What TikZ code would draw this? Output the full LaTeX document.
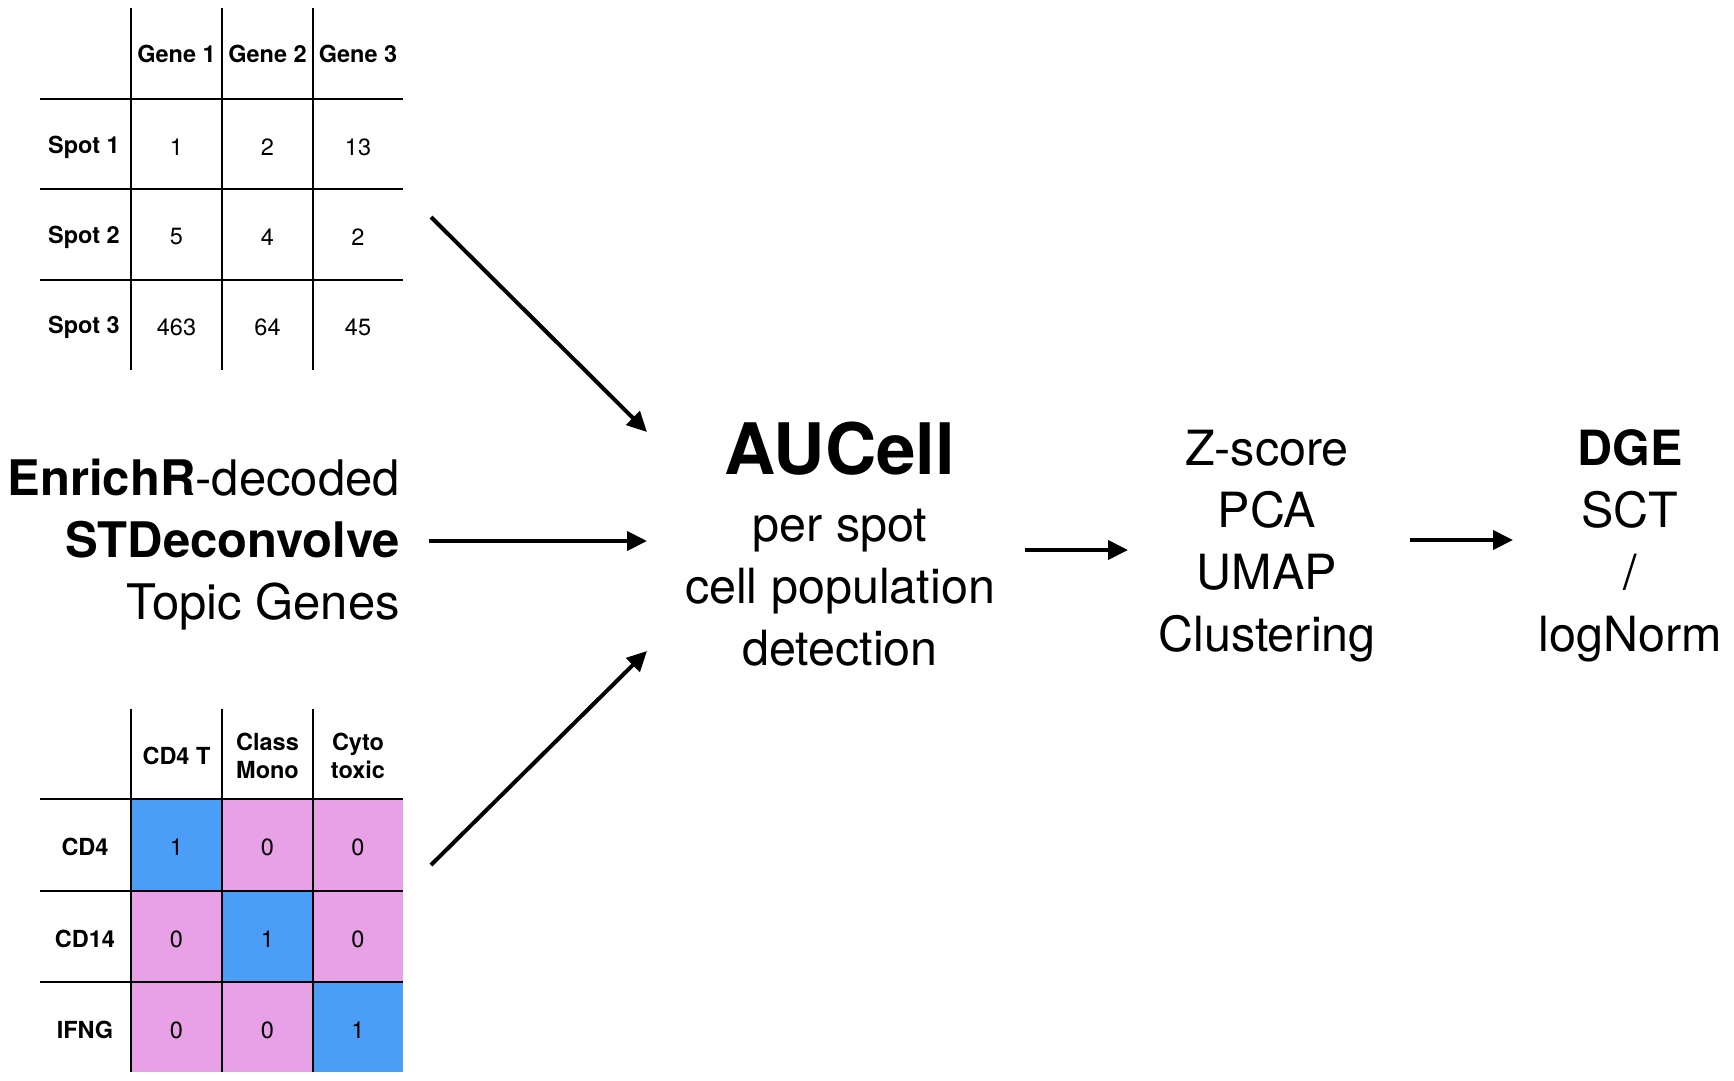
\documentclass[tikz,border=0pt]{standalone}
\usepackage{fontspec}
\setmainfont{TeX Gyre Heros}
\usetikzlibrary{arrows.meta}
\definecolor{cellblue}{RGB}{74,158,245}
\definecolor{cellpink}{RGB}{232,160,230}
\begin{document}
\begin{tikzpicture}[x=1pt,y=-1pt,
  grid/.style={line width=2pt, black},
  hdr/.style={font=\fontsize{23.5}{28}\selectfont\bfseries, align=center, inner sep=0pt},
  val/.style={font=\fontsize{23.5}{28}\selectfont, inner sep=0pt},
  big/.style={font=\fontsize{48.5}{62}\selectfont, align=center, inner sep=0pt},
  flow/.style={line width=4pt, -{Triangle[length=20pt,width=19pt]}}]
\useasboundingbox[fill=white] (0,0) rectangle (1734,1080);

% ---------- top table ----------
\foreach \y in {99,189,280} \draw[grid] (40,\y) -- (403,\y);
\foreach \x in {131,222,313} \draw[grid] (\x,8) -- (\x,370);
\node[hdr] (tg1) at (176.5,54) {Gene 1};
\node[hdr] (tg2) at (267.5,54) {Gene 2};
\node[hdr] (tg3) at (358,54) {Gene 3};
\node[hdr] (ts1) at (84,147) {Spot 1};
\node[hdr] (ts2) at (84,237) {Spot 2};
\node[hdr] (ts3) at (84,327) {Spot 3};
\node[val] (tv11) at (176.5,147) {1};
\node[val] (tv12) at (267.5,147) {2};
\node[val] (tv13) at (358,147) {13};
\node[val] (tv21) at (176.5,237) {5};
\node[val] (tv22) at (267.5,237) {4};
\node[val] (tv23) at (358,237) {2};
\node[val] (tv31) at (176.5,327) {463};
\node[val] (tv32) at (267.5,327) {64};
\node[val] (tv33) at (358,327) {45};

% ---------- bottom table ----------
\fill[cellpink] (131,799) rectangle (403,1072);
\fill[cellblue] (131,799) rectangle (222,891);
\fill[cellblue] (222,891) rectangle (313,982);
\fill[cellblue] (313,982) rectangle (403,1072);
\foreach \y in {799,891,982} \draw[grid] (40,\y) -- (403,\y);
\foreach \x in {131,222,313} \draw[grid] (\x,709) -- (\x,1072);
\node[hdr] (bh1) at (176.5,756) {CD4 T};
\node[hdr] (bh2) at (267.5,756) {Class\\Mono};
\node[hdr] (bh3) at (358,756) {Cyto\\toxic};
\node[hdr] (br1) at (85,847) {CD4};
\node[hdr] (br2) at (85,939) {CD14};
\node[hdr] (br3) at (85,1030) {IFNG};
\node[val] (bv11) at (176.5,847) {1};
\node[val] (bv12) at (267.5,847) {0};
\node[val] (bv13) at (358,847) {0};
\node[val] (bv21) at (176.5,939) {0};
\node[val] (bv22) at (267.5,939) {1};
\node[val] (bv23) at (358,939) {0};
\node[val] (bv31) at (176.5,1030) {0};
\node[val] (bv32) at (267.5,1030) {0};
\node[val] (bv33) at (358,1030) {1};

% ---------- texts ----------
\node[big, font=\fontsize{49}{62}\selectfont, align=right, anchor=east] (src) at (400,545)
  {\textbf{EnrichR}-decoded\\\textbf{STDeconvolve}\\Topic Genes};
\node[font=\fontsize{71}{72}\selectfont\bfseries, inner sep=0pt, anchor=base] (auc) at (840,474) {AUCell};
\node[big] (auct) at (840,588) {per spot\\cell population\\detection};
\node[big] (zs) at (1267,546) {Z-score\\PCA\\UMAP\\Clustering};
\node[big] (dge) at (1630,546) {\textbf{DGE}\\SCT\\/\\logNorm};

% ---------- connectors ----------
\coordinate (a1s) at (431,217);  \coordinate (a1e) at (647,432);
\coordinate (a2s) at (429,541);  \coordinate (a2e) at (647,541);
\coordinate (a3s) at (431,865);  \coordinate (a3e) at (647,651);
\coordinate (a4s) at (1025,550); \coordinate (a4e) at (1128,550);
\coordinate (a5s) at (1410,540); \coordinate (a5e) at (1513,540);
\draw[flow] (a1s) -- (a1e);
\draw[flow] (a2s) -- (a2e);
\draw[flow] (a3s) -- (a3e);
\draw[flow] (a4s) -- (a4e);
\draw[flow] (a5s) -- (a5e);
\end{tikzpicture}
\end{document}
